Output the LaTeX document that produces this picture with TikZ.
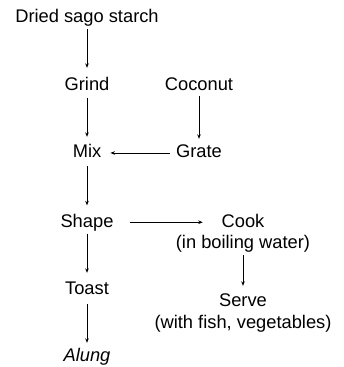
\documentclass[tikz,border=0pt]{standalone}
\usepackage{fontspec}
\setmainfont{Liberation Sans}
\usetikzlibrary{arrows.meta}
\begin{document}
\begin{tikzpicture}[x=1pt,y=1pt,
  lbl/.style={anchor=base,inner sep=0pt,text height=13.5pt,text depth=4pt,font=\fontsize{18.3}{22}\selectfont},
  arr/.style={line width=0.8pt,-{Stealth[length=4.5pt,width=3.6pt]}}]
\useasboundingbox (0,0) rectangle (344,-367);
\node[lbl] (dried) at (87,-22.3) {Dried sago starch};
\node[lbl] (grind) at (87,-90) {Grind};
\node[lbl] (coconut) at (199,-90) {Coconut};
\node[lbl] (mix) at (87,-157.7) {Mix};
\node[lbl] (grate) at (199,-157.7) {Grate};
\node[lbl] (shape) at (87,-227) {Shape};
\node[lbl] (cook) at (243,-227) {Cook};
\node[lbl] (cookn) at (243,-248) {(in boiling water)};
\node[lbl] (toast) at (87,-294.3) {Toast};
\node[lbl] (serve) at (243,-306.7) {Serve};
\node[lbl] (serven) at (243,-328.5) {(with fish, vegetables)};
\node[lbl] (alung) at (87,-361) {\itshape Alung};
\draw[arr,shorten <=2.7pt,shorten >=8.5pt] (dried.south) -- (grind.north);
\draw[arr,shorten <=4pt,shorten >=7.2pt] (grind.south) -- (mix.north);
\draw[arr,shorten <=2pt,shorten >=5.2pt] (coconut.south) -- (grate.north);
\draw[arr,shorten <=6pt,shorten >=9pt] (grate.west) -- (mix.east);
\draw[arr,shorten <=4.3pt,shorten >=8pt] (mix.south) -- (shape.north);
\draw[arr,shorten <=16pt,shorten >=18.7pt] (shape.east) -- (cook.west);
\draw[arr,shorten <=2.5pt,shorten >=7.8pt] (shape.south) -- (toast.north);
\draw[arr,shorten <=5.7pt,shorten >=4.5pt] (toast.south) -- (alung.north);
\draw[arr,shorten <=3pt,shorten >=7.2pt] (cookn.south) -- (serve.north);
\end{tikzpicture}
\end{document}
